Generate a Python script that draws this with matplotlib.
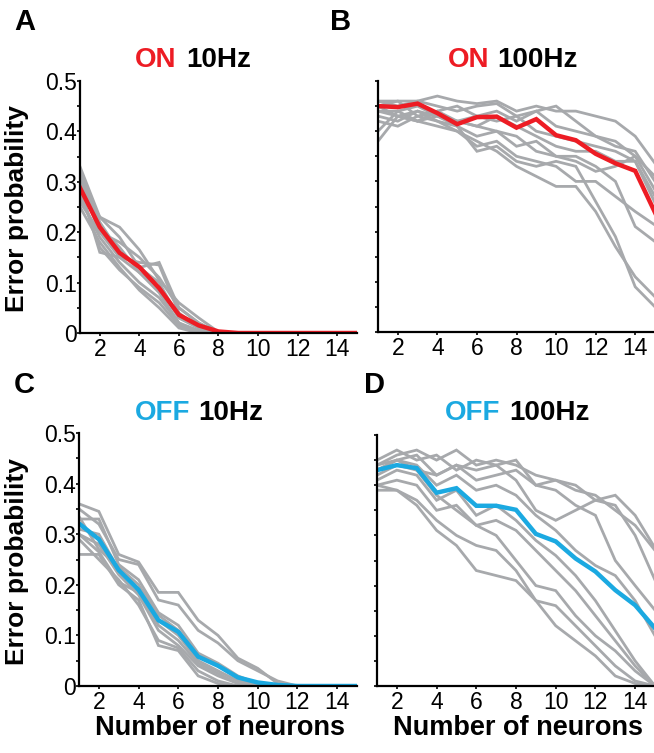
import numpy as np
import matplotlib.pyplot as plt

plt.rcParams['font.family'] = ['Liberation Sans', 'DejaVu Sans']

# number of neurons
n = np.arange(1, 16)

RED = '#ed1c24'
BLUE = '#1ba9e1'
GRAY = '#a7a9ac'

# --- ON 10Hz ---
on10_mean = [0.288, 0.21, 0.159, 0.131, 0.089, 0.036, 0.015, 0.003, 0, 0, 0, 0, 0, 0, 0]
on10_cells = [
    [0.33, 0.23, 0.21, 0.165, 0.105, 0.06, 0.03, 0.002, 0, 0, 0, 0, 0, 0, 0],
    [0.32, 0.22, 0.16, 0.13, 0.14, 0.05, 0.02, 0, 0, 0, 0, 0, 0, 0, 0],
    [0.30, 0.20, 0.15, 0.14, 0.135, 0.04, 0.01, 0, 0, 0, 0, 0, 0, 0, 0],
    [0.29, 0.16, 0.15, 0.12, 0.08, 0.02, 0.005, 0, 0, 0, 0, 0, 0, 0, 0],
    [0.27, 0.19, 0.14, 0.10, 0.07, 0.02, 0, 0, 0, 0, 0, 0, 0, 0, 0],
    [0.25, 0.18, 0.13, 0.085, 0.05, 0.01, 0, 0, 0, 0, 0, 0, 0, 0, 0],
    [0.31, 0.21, 0.17, 0.12, 0.09, 0.03, 0.01, 0, 0, 0, 0, 0, 0, 0, 0],
    [0.28, 0.17, 0.125, 0.09, 0.06, 0.015, 0, 0, 0, 0, 0, 0, 0, 0, 0],
    [0.26, 0.20, 0.18, 0.15, 0.11, 0.05, 0.02, 0, 0, 0, 0, 0, 0, 0, 0],
    [0.30, 0.23, 0.19, 0.13, 0.10, 0.03, 0.01, 0, 0, 0, 0, 0, 0, 0, 0],
]

# --- ON 100Hz ---
on100_mean = [0.45, 0.448, 0.455, 0.436, 0.414, 0.428, 0.429, 0.407, 0.424, 0.392,
              0.382, 0.355, 0.336, 0.321, 0.238]
on100_cells = [
    [0.46, 0.46, 0.46, 0.47, 0.46, 0.455, 0.46, 0.44, 0.45, 0.44, 0.44, 0.43, 0.42, 0.39, 0.336],
    [0.46, 0.45, 0.46, 0.45, 0.44, 0.45, 0.455, 0.43, 0.44, 0.45, 0.42, 0.39, 0.37, 0.36, 0.30],
    [0.45, 0.46, 0.43, 0.44, 0.45, 0.43, 0.44, 0.42, 0.44, 0.41, 0.40, 0.39, 0.38, 0.35, 0.283],
    [0.38, 0.43, 0.44, 0.43, 0.42, 0.43, 0.42, 0.43, 0.40, 0.39, 0.38, 0.37, 0.36, 0.34, 0.257],
    [0.44, 0.44, 0.42, 0.44, 0.42, 0.41, 0.43, 0.41, 0.39, 0.37, 0.36, 0.36, 0.34, 0.34, 0.27],
    [0.43, 0.42, 0.44, 0.42, 0.41, 0.39, 0.40, 0.37, 0.38, 0.35, 0.35, 0.33, 0.30, 0.21, 0.18],
    [0.42, 0.41, 0.43, 0.42, 0.40, 0.37, 0.38, 0.35, 0.34, 0.33, 0.30, 0.30, 0.27, 0.24, 0.213],
    [0.44, 0.43, 0.42, 0.41, 0.40, 0.38, 0.36, 0.33, 0.31, 0.29, 0.29, 0.24, 0.17, 0.11, 0.07],
    [0.45, 0.43, 0.42, 0.43, 0.41, 0.36, 0.37, 0.34, 0.33, 0.34, 0.33, 0.26, 0.19, 0.09, 0.05],
    [0.40, 0.44, 0.45, 0.43, 0.42, 0.41, 0.40, 0.39, 0.36, 0.35, 0.34, 0.32, 0.33, 0.35, 0.31],
]

# --- OFF 10Hz ---
off10_mean = [0.321, 0.29, 0.229, 0.19, 0.13, 0.107, 0.058, 0.04, 0.017, 0.007, 0.002, 0, 0, 0, 0]
off10_cells = [
    [0.36, 0.345, 0.26, 0.245, 0.185, 0.185, 0.13, 0.10, 0.055, 0.035, 0.005, 0, 0, 0, 0],
    [0.35, 0.32, 0.25, 0.24, 0.17, 0.16, 0.11, 0.085, 0.05, 0.03, 0.01, 0, 0, 0, 0],
    [0.33, 0.33, 0.24, 0.21, 0.145, 0.12, 0.065, 0.045, 0.02, 0.005, 0, 0, 0, 0, 0],
    [0.31, 0.30, 0.23, 0.19, 0.13, 0.10, 0.05, 0.03, 0.01, 0, 0, 0, 0, 0, 0],
    [0.30, 0.28, 0.22, 0.18, 0.11, 0.08, 0.04, 0.02, 0.005, 0, 0, 0, 0, 0, 0],
    [0.26, 0.26, 0.20, 0.17, 0.08, 0.07, 0.02, 0.005, 0, 0, 0, 0, 0, 0, 0],
    [0.29, 0.25, 0.21, 0.16, 0.09, 0.075, 0.03, 0.01, 0, 0, 0, 0, 0, 0, 0],
    [0.335, 0.27, 0.235, 0.20, 0.14, 0.11, 0.06, 0.04, 0.015, 0, 0, 0, 0, 0, 0],
    [0.30, 0.265, 0.205, 0.185, 0.12, 0.09, 0.045, 0.025, 0.005, 0, 0, 0, 0, 0, 0],
]

# --- OFF 100Hz ---
off100_mean = [0.43, 0.44, 0.434, 0.385, 0.394, 0.359, 0.359, 0.351, 0.303, 0.288,
               0.254, 0.228, 0.191, 0.161, 0.115]
off100_cells = [
    [0.44, 0.46, 0.47, 0.45, 0.47, 0.44, 0.45, 0.44, 0.42, 0.41, 0.40, 0.37, 0.38, 0.34, 0.275],
    [0.45, 0.47, 0.45, 0.46, 0.43, 0.45, 0.44, 0.45, 0.40, 0.41, 0.39, 0.38, 0.35, 0.32, 0.27],
    [0.43, 0.45, 0.46, 0.42, 0.44, 0.43, 0.44, 0.41, 0.35, 0.33, 0.35, 0.37, 0.36, 0.30, 0.211],
    [0.42, 0.44, 0.43, 0.42, 0.44, 0.41, 0.42, 0.43, 0.40, 0.39, 0.36, 0.34, 0.25, 0.20, 0.151],
    [0.44, 0.45, 0.44, 0.40, 0.42, 0.39, 0.40, 0.38, 0.34, 0.31, 0.27, 0.24, 0.22, 0.17, 0.10],
    [0.41, 0.43, 0.42, 0.37, 0.39, 0.34, 0.36, 0.33, 0.29, 0.26, 0.22, 0.17, 0.11, 0.05, 0.0],
    [0.40, 0.41, 0.40, 0.35, 0.36, 0.32, 0.33, 0.31, 0.27, 0.23, 0.19, 0.14, 0.09, 0.04, 0.0],
    [0.39, 0.39, 0.37, 0.33, 0.30, 0.28, 0.27, 0.23, 0.17, 0.16, 0.12, 0.08, 0.04, 0.01, 0.0],
    [0.40, 0.39, 0.36, 0.31, 0.28, 0.23, 0.22, 0.21, 0.17, 0.12, 0.09, 0.06, 0.02, 0.005, 0.0],
    [0.43, 0.45, 0.43, 0.38, 0.35, 0.32, 0.30, 0.25, 0.20, 0.19, 0.14, 0.10, 0.07, 0.03, 0.0],
]

W, H = 654, 753
fig = plt.figure(figsize=(W / 100, H / 100), dpi=100)


def px_axes(l, t, r, b):
    return fig.add_axes([l / W, 1 - b / H, (r - l) / W, (b - t) / H])


def ftxt(x, y, s, **kw):
    fig.text(x / W, 1 - y / H, s, **kw)


panels = [
    # left, top, right, bottom, cells, mean, colour, ylabels, xlabel
    (80, 81, 357, 333, on10_cells, on10_mean, RED, True, False),
    (378, 81, 655, 332, on100_cells, on100_mean, RED, False, False),
    (79, 433, 357, 686, off10_cells, off10_mean, BLUE, True, True),
    (377, 435, 655, 686, off100_cells, off100_mean, BLUE, False, True),
]

for l, t, r, b, cells, mean, col, ylab, xlab in panels:
    ax = px_axes(l, t, r, b)
    for c in cells:
        ax.plot(n, c, color=GRAY, lw=2.0, solid_joinstyle='miter')
    ax.plot(n, mean, color=col, lw=3.2, solid_joinstyle='miter')
    ax.set_xlim(1, 15)
    ax.set_ylim(0, 0.5)
    ax.spines['top'].set_visible(False)
    ax.spines['right'].set_visible(False)
    ax.spines['left'].set_linewidth(1.6)
    ax.spines['bottom'].set_linewidth(1.6)
    ax.set_xticks(range(2, 15, 2))
    ax.set_yticks(np.arange(0, 0.51, 0.05))
    ax.tick_params(axis='x', direction='out', length=2.5, width=1.2, labelsize=16.5, pad=1)
    ax.tick_params(axis='y', direction='out', length=2, width=1.2, labelsize=16.5, pad=0)
    if ylab:
        ylbls = []
        for v in np.arange(0, 0.51, 0.05):
            k = int(round(v * 100))
            if k == 0:
                ylbls.append('0')
            elif k % 10 == 0:
                ylbls.append('%.1f' % v)
            else:
                ylbls.append('')
        ax.set_yticklabels(ylbls)
        ftxt(17, (t + b) / 2 + 2, 'Error probability', fontsize=19, fontweight='bold',
             rotation=90, ha='center', va='center')
    else:
        ax.set_yticklabels([])
    if xlab:
        ftxt((l + r) / 2 + 2, 735, 'Number of neurons', fontsize=19.5, fontweight='bold',
             ha='center', va='baseline')

# panel letters
for x, y, s in [(14, 30, 'A'), (330, 30, 'B'), (14, 393, 'C'), (364, 393, 'D')]:
    ftxt(x, y, s, fontsize=21, fontweight='bold', va='baseline', ha='left')

# two-colour titles
titles = [
    (176, 186, 67, 'ON', RED, '10Hz'),
    (489, 497, 67, 'ON', RED, '100Hz'),
    (190, 198, 420, 'OFF', BLUE, '10Hz'),
    (500, 509, 420, 'OFF', BLUE, '100Hz'),
]
for xr, xl, y, s1, c1, s2 in titles:
    ftxt(xr, y, s1, color=c1, fontsize=20, fontweight='bold', ha='right', va='baseline')
    ftxt(xl, y, s2, color='black', fontsize=20, fontweight='bold', ha='left', va='baseline')

fig.savefig('out.png', dpi=100)
